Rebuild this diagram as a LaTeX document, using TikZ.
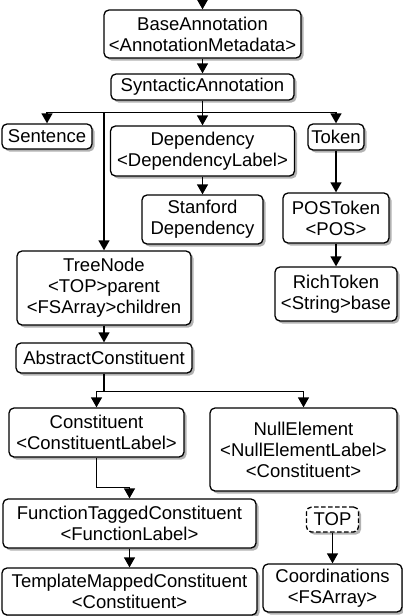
\documentclass[tikz,border=0pt]{standalone}
\usepackage{fontspec}
\setmainfont{Liberation Sans}
\usetikzlibrary{arrows.meta, shadows}

\tikzset{
	typebox/.style={shape=rectangle, draw, rounded corners=5pt, line width=1.3pt, fill=white, align=center, inner sep=0pt, font=\fontsize{18.5}{21}\selectfont, drop shadow={shadow xshift=2.5pt, shadow yshift=-2.5pt, fill=black!60}},
	optbox/.style={typebox, dash pattern=on 4.5pt off 2.5pt},
	arr/.style={-{Triangle[length=10pt, width=11pt]}, line width=1.3pt},
	wire/.style={line width=1.3pt}
}

\begin{document}
\begin{tikzpicture}[x=1pt, y=-1pt]
	\useasboundingbox (0,0) rectangle (402,616);
	% Type boxes:
	\node[typebox, minimum width=197pt, minimum height=48pt] (base) at (202.5, 34){BaseAnnotation\\<AnnotationMetadata>};
	\node[typebox, minimum width=183pt, minimum height=26pt] (synt) at (202.5, 87){SyntacticAnnotation};
	\node[typebox, minimum width=90pt, minimum height=25pt] (sent) at (47, 136.5){Sentence};
	\node[typebox, minimum width=184pt, minimum height=50pt] (dep) at (202.5, 151){Dependency\\<DependencyLabel>};
	\node[typebox, minimum width=56pt, minimum height=26pt] (token) at (336, 137){Token};
	\node[typebox, minimum width=121pt, minimum height=49pt] (stanf) at (202.5, 219.5){Stanford\\Dependency};
	\node[typebox, minimum width=106pt, minimum height=50pt] (postok) at (336, 218){POSToken\\<POS>};
	\node[typebox, minimum width=174pt, minimum height=74pt] (tree) at (104, 288){TreeNode\\<TOP>parent\\<FSArray>children};
	\node[typebox, minimum width=122pt, minimum height=54pt] (richtok) at (336, 294){RichToken\\<String>base};
	\node[typebox, minimum width=176pt, minimum height=30pt] (abscon) at (104, 358){AbstractConstituent};
	\node[typebox, minimum width=175pt, minimum height=49pt] (con) at (96.5, 432.5){Constituent\\<ConstituentLabel>};
	\node[typebox, minimum width=187pt, minimum height=83pt] (null) at (303.5, 449.5){NullElement\\<NullElementLabel>\\<Constituent>};
	\node[typebox, minimum width=253pt, minimum height=49pt] (ftc) at (129.5, 523.5){FunctionTaggedConstituent\\<FunctionLabel>};
	\node[typebox, minimum width=255pt, minimum height=47pt] (tmc) at (129.5, 591.5){TemplateMappedConstituent\\<Constituent>};
	\node[optbox, minimum width=52pt, minimum height=25pt] (top) at (332.5, 519.5){TOP};
	\node[typebox, minimum width=139pt, minimum height=48pt] (coord) at (332.5, 588){Coordinations\\<FSArray>};

	% Connectors:
	\coordinate (entry) at (202.5, 0);
	\draw[arr] (entry) -- (base);
	\draw[arr] (base) -- (synt);
	\draw[wire] (synt.south) -- ++(0, 12) coordinate (bus);
	\draw[arr] (bus) -| (sent.north);
	\draw[arr] (bus) -- (dep.north);
	\draw[arr] (bus) -| (token.north);
	\draw[arr] (bus) -| (tree.north);
	\draw[arr] (dep) -- (stanf);
	\draw[arr] (token) -- (postok);
	\draw[arr] (postok) -- (richtok);
	\draw[arr] (tree) -- (abscon);
	\draw[wire] (abscon.south) -- ++(0, 18) coordinate (split);
	\draw[arr] (split) -| (con.north);
	\draw[arr] (split) -| (null.north);
	\draw[arr] (con.south) -- ++(0, 30) -| (ftc.north);
	\draw[arr] (ftc) -- (tmc);
	\draw[arr] (top) -- (coord);
\end{tikzpicture}
\end{document}
